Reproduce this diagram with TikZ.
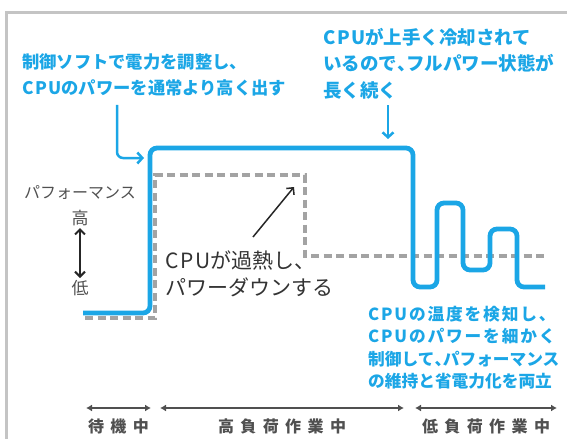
\documentclass[tikz,border=0pt]{standalone}
\usepackage{fontspec}
\setmainfont{Noto Sans CJK JP}
\newfontfamily\jpwide{Noto Sans CJK JP}[LetterSpace=11]
\newfontfamily\jpspread{Noto Sans CJK JP}[LetterSpace=40]
\newcommand\wideCPU{{\addfontfeature{LetterSpace=8}CPU}}
\newcommand\halften{\makebox[.5em][l]{、}}
\usetikzlibrary{arrows.meta,calc}
\definecolor{cpublue}{HTML}{1BA6E6}
\definecolor{dashgray}{HTML}{A3A3A3}
\definecolor{framegray}{HTML}{C4C4C4}
\definecolor{inkgray}{HTML}{505050}
\tikzset{
  note/.style = {text=cpublue, font=\fontsize{17.3}{26}\selectfont\bfseries,
    align=left, inner sep=0pt},
  remark/.style = {text=inkgray, font=\fontsize{16}{20}\selectfont, inner sep=0pt},
  power/.style = {cpublue, line width=4.8pt, rounded corners=7pt},
  throttled/.style = {dashgray, line width=4pt, dash pattern=on 8pt off 4.5pt},
  pointer/.style = {cpublue, line width=2.5pt, rounded corners=6pt,
    -{Straight Barb[length=5pt,width=11pt]}},
  span/.style = {inkgray, line width=2pt, {Latex[length=6pt,width=7pt]}-{Latex[length=6pt,width=7pt]}},
  phase/.style = {text=inkgray, font=\fontsize{16}{18}\selectfont\jpspread\bfseries, inner sep=0pt}
}
\tikzset{>={Straight Barb[length=5pt,width=10pt]}}

\begin{document}
\begin{tikzpicture}[x=1pt,y=-1pt]
  \useasboundingbox (0,0) rectangle (571,439);
  \draw[framegray, line width=3pt] (6,439) -- (6,12) -- (567,12);

  % performance curves
  \draw[throttled] (85,318) -- (155,318) -- (155,175) -- (305,175)
    -- (305,256) -- (547,256);
  \draw[power] (83,313) -- (150,313) -- (150,148) -- (413,148) -- (413,287)
    -- (437,287) -- (437,203) -- (463,203) -- (463,270) -- (490,270)
    -- (490,229) -- (517,229) -- (517,287) -- (545,287);

  % notes
  \node[note, anchor=north west] (ctrl) at (22,53)
    {制御ソフトで電力を調整し、\\\wideCPU のパワーを通常より高く出す};
  \node[note, anchor=north west, font=\fontsize{18.5}{26.5}\selectfont\bfseries]
    (cool) at (323,28) {\wideCPU が上手く冷却されて\\いるので\halften フルパワー状態が\\長く続く};
  \node[note, anchor=north west, font=\fontsize{16.7}{22.5}\selectfont\bfseries]
    (sense) at (368,306) {{\jpwide CPUの温度を検知し、}\\{\jpwide CPUのパワーを細かく}\\制御して\halften パフォーマンス\\の維持と省電力化を両立};
  \node[remark, anchor=north west, text=black!80, font=\fontsize{21}{27}\selectfont, align=left]
    (heat) at (165,251) {\wideCPU が過熱し、\\パワーダウンする};

  \coordinate (ctrlin) at (144,158);
  \coordinate (coolin) at (388,139);
  \coordinate (peak) at (294,187);
  \draw[pointer] (ctrl.south west) ++(95,9) |- (ctrlin);
  \draw[pointer] (cool.south west) ++(65,6) -- (coolin);
  \draw[black!85, line width=1.5pt, ->] (heat.north west) ++(88,-14) -- (peak);

  % axis
  \node[remark] (perf) at (80,193) {パフォーマンス};
  \node[remark, font=\fontsize{17}{20}\selectfont] (hi) at (80,218) {高};
  \node[remark, font=\fontsize{17}{20}\selectfont] (lo) at (80,288) {低};
  \draw[black!85, line width=2pt, <->] ([yshift=-2pt]hi.south) -- ([yshift=2pt]lo.north);

  % phases
  \foreach \a/\b/\t in {86/151/待機中,160/404/高負荷作業中,415/557/低負荷作業中} {
    \coordinate (from) at (\a,408);
    \coordinate (to) at (\b,408);
    \draw[span] (from) -- (to);
    \node[phase] (lbl) at ($(from)!.5!(to)+(0,18)$) {\t};
  }
\end{tikzpicture}
\end{document}
